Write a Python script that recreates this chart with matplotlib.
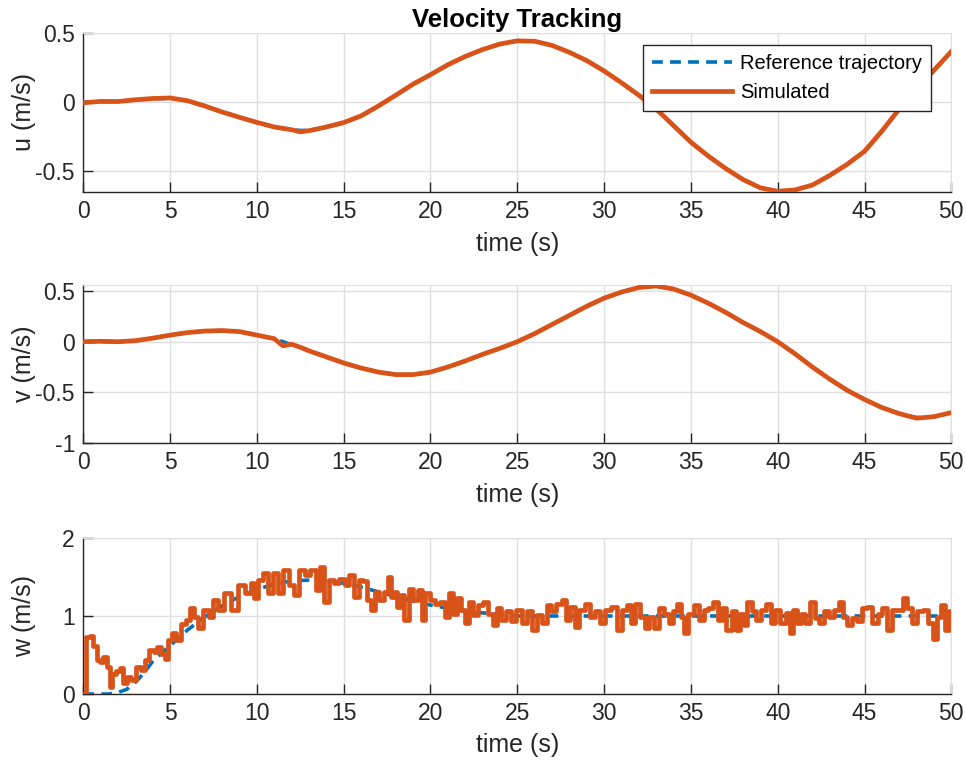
import numpy as np
import matplotlib.pyplot as plt

plt.rcParams['font.family'] = ['Liberation Sans', 'DejaVu Sans']
plt.rcParams['axes.unicode_minus'] = False

# MATLAB default line colours
c_ref = '#0072BD'
c_sim = '#D95319'
c_axis = '#262626'
c_grid = '#DFDFDF'

# surge velocity u
t_u = [0, 1, 2, 3, 4, 5, 6, 7, 8, 9, 10, 11, 12, 12.5, 13, 14, 15, 16, 17, 18, 19, 20,
       21, 22, 23, 24, 25, 26, 27, 28, 29, 30, 31, 32, 33, 34, 35, 36, 37, 38, 39, 40,
       41, 42, 43, 44, 45, 46, 47, 48, 49, 50]
u_ref = [0, 0.003, 0.005, 0.015, 0.025, 0.027, 0.01, -0.03, -0.07, -0.11, -0.145, -0.18,
         -0.2, -0.205, -0.205, -0.18, -0.15, -0.1, -0.03, 0.05, 0.13, 0.2, 0.27, 0.33, 0.38,
         0.42, 0.443, 0.44, 0.41, 0.36, 0.30, 0.225, 0.14, 0.05, -0.05, -0.17, -0.29, -0.39,
         -0.48, -0.56, -0.62, -0.645, -0.635, -0.6, -0.53, -0.45, -0.356, -0.21, -0.05,
         0.1, 0.23, 0.366]
u_sim = [-0.005, 0.005, 0.004, 0.017, 0.026, 0.03, 0.01, -0.028, -0.072, -0.11, -0.147,
         -0.18, -0.2, -0.215, -0.207, -0.18, -0.148, -0.1, -0.028, 0.05, 0.13, 0.198, 0.27,
         0.33, 0.38, 0.42, 0.443, 0.44, 0.41, 0.36, 0.30, 0.225, 0.14, 0.05, -0.05, -0.17,
         -0.29, -0.39, -0.48, -0.56, -0.62, -0.645, -0.635, -0.6, -0.53, -0.45, -0.356,
         -0.21, -0.05, 0.1, 0.23, 0.366]

# sway velocity v
t_v = [0, 1, 2, 3, 4, 5, 6, 7, 8, 9, 10, 11, 11.5, 12, 12.5, 13, 14, 15, 16, 17, 18, 19,
       20, 21, 22, 23, 24, 25, 26, 27, 28, 29, 30, 31, 32, 33, 34, 35, 36, 37, 38, 39, 40,
       41, 42, 43, 44, 45, 46, 47, 48, 49, 50]
v_ref = [0, 0.002, 0, 0.01, 0.035, 0.065, 0.09, 0.105, 0.11, 0.1, 0.065, 0.03, 0.0, -0.03,
         -0.055, -0.09, -0.15, -0.21, -0.26, -0.3, -0.325, -0.325, -0.3, -0.25, -0.19,
         -0.125, -0.065, 0.0, 0.08, 0.17, 0.26, 0.35, 0.43, 0.49, 0.535, 0.55, 0.52, 0.46,
         0.38, 0.29, 0.19, 0.1, 0.0, -0.12, -0.25, -0.37, -0.48, -0.57, -0.65, -0.71,
         -0.75, -0.74, -0.7]
v_sim = [0, 0.004, 0.0, 0.01, 0.035, 0.065, 0.09, 0.105, 0.11, 0.1, 0.065, 0.03, -0.04,
         -0.025, -0.055, -0.09, -0.15, -0.21, -0.26, -0.3, -0.325, -0.325, -0.3, -0.25,
         -0.19, -0.125, -0.065, 0.0, 0.08, 0.17, 0.26, 0.35, 0.43, 0.49, 0.535, 0.55, 0.52,
         0.46, 0.38, 0.29, 0.19, 0.1, 0.0, -0.12, -0.25, -0.37, -0.48, -0.57, -0.65, -0.71,
         -0.755, -0.74, -0.7]

# heave velocity w
t_wref = [0, 0.5, 1, 1.5, 2, 2.5, 3, 3.5, 4, 5, 6, 7, 8, 9, 10, 11, 12, 13, 14, 15, 16, 17,
          18, 19, 20, 21, 22, 23, 24, 25, 30, 35, 40, 45, 50]
w_ref = [0, 0, 0, 0, 0.02, 0.06, 0.15, 0.27, 0.42, 0.62, 0.82, 0.99, 1.13, 1.25, 1.34, 1.41,
         1.45, 1.46, 1.45, 1.42, 1.37, 1.31, 1.25, 1.19, 1.14, 1.1, 1.06, 1.04, 1.02, 1.0,
         1.0, 1.0, 1.0, 1.0, 1.0]
t_wsim = [0.0, 0.29, 0.48, 0.67, 0.87, 1.06, 1.25, 1.44, 1.63, 1.73, 2.0, 2.2, 2.4, 2.6,
          2.9, 3.2, 3.5, 3.65, 3.95, 4.15, 4.3, 4.6, 4.8, 5.0, 5.2, 5.5, 5.8, 6.05, 6.25,
          6.5, 6.7, 7.1, 7.4, 7.6, 7.9, 8.3, 8.75, 9.1, 9.5, 9.8, 9.9, 10.2, 10.5, 10.8,
          11.05, 11.35, 11.7, 12.0, 12.3, 12.6, 12.9, 13.25, 13.55, 13.75, 14.0, 14.3, 14.6,
          14.9, 15.2, 15.45, 15.75, 16.0, 16.25, 16.4, 16.7, 16.9, 17.2, 17.5, 17.6, 17.8,
          17.98, 18.2, 18.37, 18.62, 18.85, 19.14, 19.43, 19.62, 19.8, 20.1, 20.4, 20.67,
          20.96, 21.15, 21.4, 21.6, 21.9, 22.1, 22.3, 22.6, 22.9, 23.17, 23.46, 23.75,
          23.94, 24.2, 24.5, 24.8, 25.1, 25.4, 25.7, 26.0, 26.3, 26.55, 26.84, 27.1, 27.4,
          27.7, 27.9, 28.2, 28.4, 28.7, 29.05, 29.3, 29.6, 29.9, 30.2, 30.6, 30.87, 31.16,
          31.45, 31.64, 31.93, 32.2, 32.5, 32.7, 33.0, 33.3, 33.6, 33.87, 34.05, 34.35,
          34.55, 34.7, 35.0, 35.3, 35.6, 35.86, 36.15, 36.45, 36.65, 36.9, 37.2, 37.5,
          37.7, 37.97, 38.16, 38.36, 38.65, 38.9, 39.2, 39.5, 39.7, 40.0, 40.3, 40.6,
          40.78, 40.97, 41.2, 41.5, 41.7, 42.0, 42.25, 42.55, 42.8, 43.1, 43.4, 43.64,
          43.87, 44.15, 44.45, 44.7, 45.0, 45.3, 45.6, 45.9, 46.17, 46.45, 46.75, 47.05,
          47.33, 47.6, 47.9, 48.2, 48.5, 48.8, 49.07, 49.26, 49.55, 49.74, 49.94, 50.0]
w_sim = [0.0, 0.73, 0.75, 0.61, 0.44, 0.41, 0.48, 0.35, 0.09, 0.26, 0.29, 0.33, 0.14, 0.22,
         0.18, 0.35, 0.31, 0.44, 0.56, 0.54, 0.6, 0.51, 0.45, 0.69, 0.78, 0.69, 0.9, 0.95,
         1.1, 0.99, 0.85, 1.08, 0.99, 1.2, 1.08, 1.29, 1.08, 1.4, 1.29, 1.42, 1.23, 1.46,
         1.55, 1.29, 1.55, 1.29, 1.59, 1.4, 1.27, 1.59, 1.53, 1.59, 1.33, 1.63, 1.18, 1.46,
         1.42, 1.48, 1.4, 1.53, 1.25, 1.46, 1.45, 1.2, 1.08, 1.31, 1.21, 1.31, 1.5, 1.25,
         1.31, 1.12, 1.27, 0.95, 1.35, 1.21, 1.33, 0.95, 1.29, 1.21, 1.16, 1.18, 0.99, 1.29,
         1.03, 1.23, 1.08, 0.91, 1.18, 1.01, 1.14, 1.18, 1.03, 0.88, 1.1, 0.95, 1.06, 0.93,
         1.08, 0.91, 1.06, 0.82, 1.01, 0.91, 1.14, 1.06, 1.16, 1.21, 0.95, 1.12, 0.86, 1.08,
         1.16, 0.99, 1.06, 0.91, 1.08, 1.12, 0.82, 1.08, 1.14, 0.91, 1.16, 0.99, 0.84, 0.99,
         0.84, 1.1, 1.03, 0.91, 1.06, 1.16, 0.99, 0.78, 1.03, 1.14, 0.95, 1.08, 1.1, 1.18,
         0.95, 1.1, 0.82, 1.06, 0.82, 1.03, 0.88, 1.18, 1.06, 0.95, 1.08, 1.16, 0.91, 1.08,
         0.91, 1.04, 0.78, 1.08, 0.91, 1.03, 0.91, 1.18, 0.97, 0.91, 1.06, 0.99, 1.08, 1.18,
         0.99, 0.88, 0.97, 0.93, 1.1, 1.12, 0.91, 1.03, 1.1, 0.82, 1.08, 1.08, 1.23, 1.1,
         0.91, 1.06, 1.08, 0.91, 0.71, 0.99, 1.14, 0.82, 1.06, 1.06]

panels = [
    (t_u, u_ref, t_u, u_sim, 'u (m/s)', (-0.65, 0.5), [-0.5, 0, 0.5], 'default'),
    (t_v, v_ref, t_v, v_sim, 'v (m/s)', (-1, 0.56), [-1, -0.5, 0, 0.5], 'default'),
    (t_wref, w_ref, t_wsim, w_sim, 'w (m/s)', (0, 2), [0, 1, 2], 'steps-mid'),
]
# axes boxes in figure fractions: left, bottom, width, height
boxes = [
    [0.0862, 0.7484, 0.8986, 0.2084],
    [0.0862, 0.4194, 0.8986, 0.2071],
    [0.0862, 0.0904, 0.8986, 0.2045],
]

fig = plt.figure(figsize=(9.66, 7.63), dpi=100)
axes = []
for (tr, yr, ts, ys, lab, lim, ticks, ds), box in zip(panels, boxes):
    ax = fig.add_axes(box)
    ax.plot(tr, yr, color=c_ref, lw=2.6, dashes=(3, 2), label='Reference trajectory', zorder=3)
    ax.plot(ts, ys, color=c_sim, lw=3.4, drawstyle=ds, label='Simulated', zorder=4)
    ax.set_xlim(0, 50)
    ax.set_ylim(*lim)
    ax.set_xticks(np.arange(0, 51, 5))
    ax.set_yticks(ticks)
    ax.set_yticklabels([('%g' % v) for v in ticks])
    ax.grid(True, color=c_grid, lw=1.0)
    ax.set_axisbelow(True)
    for side in ['top', 'right']:
        ax.spines[side].set_color(c_grid)
    for side in ['left', 'bottom']:
        ax.spines[side].set_color(c_axis)
        ax.spines[side].set_linewidth(1.0)
    ax.tick_params(direction='in', length=7, width=1.0, colors=c_axis,
                   labelsize=16.5, pad=6, top=False, right=False)
    ax.set_xlabel('time (s)', fontsize=18, color=c_axis)
    ax.set_ylabel(lab, fontsize=18, color=c_axis)
    ax.xaxis.set_label_coords(0.5, -0.25)
    ax.yaxis.set_label_coords(-0.054, 0.5)
    axes.append(ax)

axes[0].set_title('Velocity Tracking', fontsize=18.5, fontweight='bold', pad=4)
leg = axes[0].legend(loc='upper right', bbox_to_anchor=(0.977, 0.9245), borderaxespad=0,
                     fontsize=14.5, handlelength=4.0, handletextpad=0.4, borderpad=0.45,
                     labelspacing=0.5, fancybox=False, framealpha=1, edgecolor=c_axis)
leg.get_frame().set_linewidth(1.0)

fig.savefig('out.png', dpi=100)
